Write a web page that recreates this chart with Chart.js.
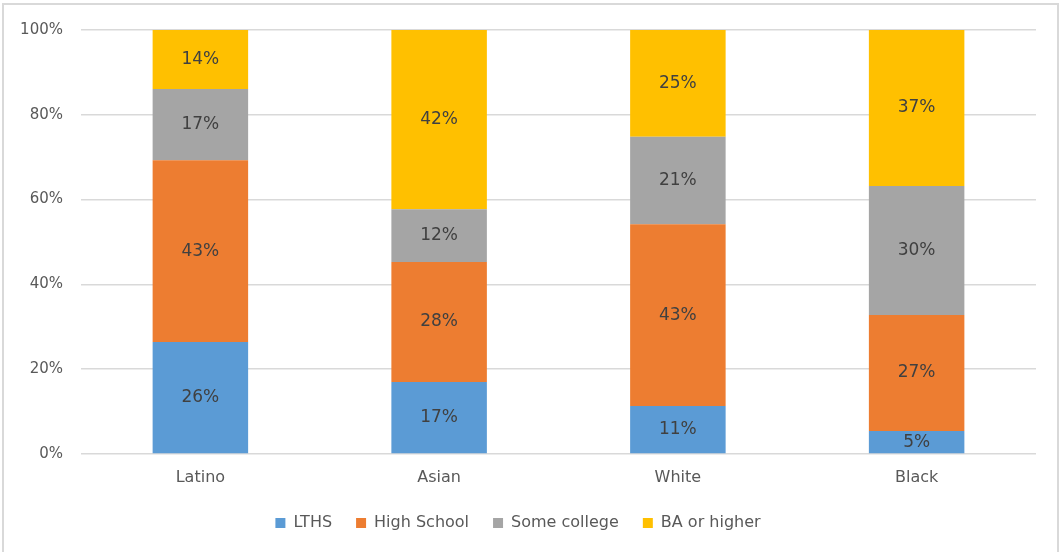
<!DOCTYPE html>
<html>
<head>
<meta charset="utf-8">
<script src="https://cdn.jsdelivr.net/npm/chart.js@4"></script>
<style>
  html, body { margin: 0; padding: 0; background: #fff; }
  #wrap { width: 1062px; height: 552px; }
</style>
</head>
<body>
<div id="wrap"><canvas id="myChart" width="1062" height="552"></canvas></div>
<script>
const categories = ['Latino', 'Asian', 'White', 'Black'];
const lths = [26.4, 17.0, 11.3, 5.4];
const highSchool = [42.9, 28.3, 42.9, 27.4];
const someCollege = [16.8, 12.4, 20.6, 30.4];
const baOrHigher = [13.9, 42.3, 25.2, 36.8];
const yTicks = [0, 20, 40, 60, 80, 100];

const FONT = "'DejaVu Sans', sans-serif";

// white page + light grey frame like the excel chart area
const frame = {
  id: 'frame',
  beforeDraw(chart) {
    const ctx = chart.ctx;
    ctx.save();
    ctx.fillStyle = '#fff';
    ctx.fillRect(0, 0, chart.width, chart.height);
    ctx.strokeStyle = '#d9d9d9';
    ctx.lineWidth = 2;
    ctx.strokeRect(3, 4, 1055, 600);
    ctx.restore();
  }
};

// value labels in the middle of every segment
const segLabels = {
  id: 'segLabels',
  afterDatasetsDraw(chart) {
    const ctx = chart.ctx;
    ctx.save();
    ctx.font = '17px ' + FONT;
    ctx.fillStyle = '#404040';
    ctx.textAlign = 'center';
    ctx.textBaseline = 'middle';
    chart.data.datasets.forEach((ds, i) => {
      const meta = chart.getDatasetMeta(i);
      meta.data.forEach((bar, j) => {
        const v = ds.data[j];
        ctx.fillText(Math.round(v) + '%', bar.x, (bar.y + bar.base) / 2);
      });
    });
    ctx.restore();
  }
};

var ctx = document.getElementById('myChart').getContext('2d');
new Chart(ctx, {
  type: 'bar',
  data: {
    labels: categories,
    datasets: [
      { label: 'LTHS', data: lths, backgroundColor: '#5B9BD5' },
      { label: 'High School', data: highSchool, backgroundColor: '#ED7D31' },
      { label: 'Some college', data: someCollege, backgroundColor: '#A5A5A5' },
      { label: 'BA or higher', data: baOrHigher, backgroundColor: '#FFC000' }
    ]
  },
  options: {
    responsive: false,
    animation: false,
    datasets: {
      bar: { categoryPercentage: 1, barPercentage: 0.4 }
    },
    layout: { padding: { left: 0, right: 26, top: 30, bottom: 11 } },
    plugins: {
      tooltip: { enabled: false },
      legend: {
        position: 'bottom',
        labels: {
          boxWidth: 10,
          boxHeight: 10,
          padding: 24,
          color: '#595959',
          font: { family: FONT, size: 16 }
        }
      }
    },
    scales: {
      x: {
        stacked: true,
        afterFit(scale) { scale.height = 37; },
        grid: { display: false, drawTicks: false },
        border: { display: false },
        ticks: { color: '#595959', padding: 14, font: { family: FONT, size: 16 } }
      },
      y: {
        stacked: true,
        min: 0,
        max: 100,
        afterBuildTicks(scale) {
          scale.ticks = yTicks.map(v => ({ value: v }));
        },
        afterFit(scale) { scale.width = 81; },
        grid: { color: '#d9d9d9', lineWidth: 1.5, drawTicks: false },
        border: { display: false },
        ticks: {
          color: '#595959',
          padding: 18,
          font: { family: FONT, size: 15 },
          callback: v => v + '%'
        }
      }
    }
  },
  plugins: [frame, segLabels]
});
</script>
</body>
</html>
